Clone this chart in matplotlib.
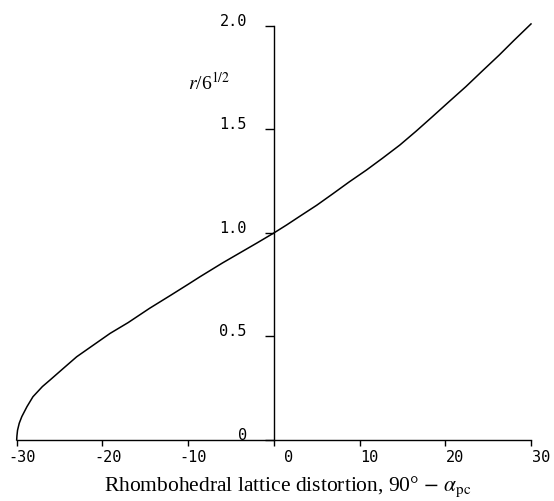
# r/6^(1/2) と菱面体格子の歪み
import matplotlib
matplotlib.use("Agg")
import matplotlib.pyplot as plt
from matplotlib.transforms import ScaledTranslation

# ===== データ=====
distortion = [-30.0, -29.97, -29.9, -29.7, -29.4, -28.8, -28.1, -27.0, -26.1, -24.5,
              -23.0, -21.0, -19.1, -17.0, -14.5, -12.0, -10.0, -8.6, -6.0, -4.0,
              -2.0, 0.0, 1.5, 3.0, 5.0, 6.9, 8.8, 10.8, 12.7, 14.7,
              16.6, 18.5, 20.4, 22.4, 24.3, 26.3, 28.0, 30.0]
r_ratio = [0.0, 0.02, 0.047, 0.081, 0.113, 0.161, 0.209, 0.258, 0.29, 0.348,
           0.402, 0.46, 0.515, 0.567, 0.636, 0.70, 0.752, 0.789, 0.855, 0.903,
           0.951, 1.0, 1.039, 1.080, 1.134, 1.190, 1.247, 1.304, 1.362, 1.425,
           1.492, 1.562, 1.633, 1.707, 1.782, 1.86, 1.93, 2.01]

xticks = [-30, -20, -10, 0, 10, 20, 30]
yticks = [0, 0.5, 1.0, 1.5, 2.0]
ytick_labels = ["0", "0.5", "1.0", "1.5", "2.0"]

plt.rcParams["mathtext.fontset"] = "stix"

fig = plt.figure(figsize=(5.54, 5.01), dpi=100)
ax = fig.add_axes([0.0301, 0.1218, 0.9284, 0.8263])

ax.plot(distortion, r_ratio, color="black", lw=1.1, clip_on=False)

ax.set_xlim(-30, 30)
ax.set_ylim(0, 2.0)

for s in ["top", "right"]:
    ax.spines[s].set_visible(False)
ax.spines["left"].set_position(("data", 0))
for s in ["left", "bottom"]:
    ax.spines[s].set_linewidth(1.0)

ax.set_xticks(xticks)
ax.set_xticklabels([str(t) for t in xticks], family="DejaVu Sans Mono", fontsize=11)
ax.set_yticks(yticks)
ax.set_yticklabels(ytick_labels, family="DejaVu Sans Mono", fontsize=11)
ax.tick_params(axis="x", direction="out", length=4.3, width=1.0, pad=3)
ax.tick_params(axis="y", direction="out", length=6.5, width=1.0, pad=13)

# 目盛ラベルの位置合わせ（元図はx側が右寄せ、y側は目盛の上）
for lab in ax.get_xticklabels():
    lab.set_horizontalalignment("right")
    lab.set_transform(lab.get_transform() + ScaledTranslation(19 / 100, 0, fig.dpi_scale_trans))
for lab in ax.get_yticklabels():
    lab.set_verticalalignment("baseline")

fig.text(288 / 554, 1 - 491 / 501, "Rhombohedral lattice distortion, 90° $-$ $\\alpha_{\\mathrm{pc}}$",
         ha="center", va="baseline", family="Liberation Serif", fontsize=15.5)
fig.text(188 / 554, 1 - 90 / 501, "$r$/6$^{1/2}$", ha="left", va="baseline",
         family="Liberation Serif", fontsize=14)

fig.savefig("out.png", dpi=100)
